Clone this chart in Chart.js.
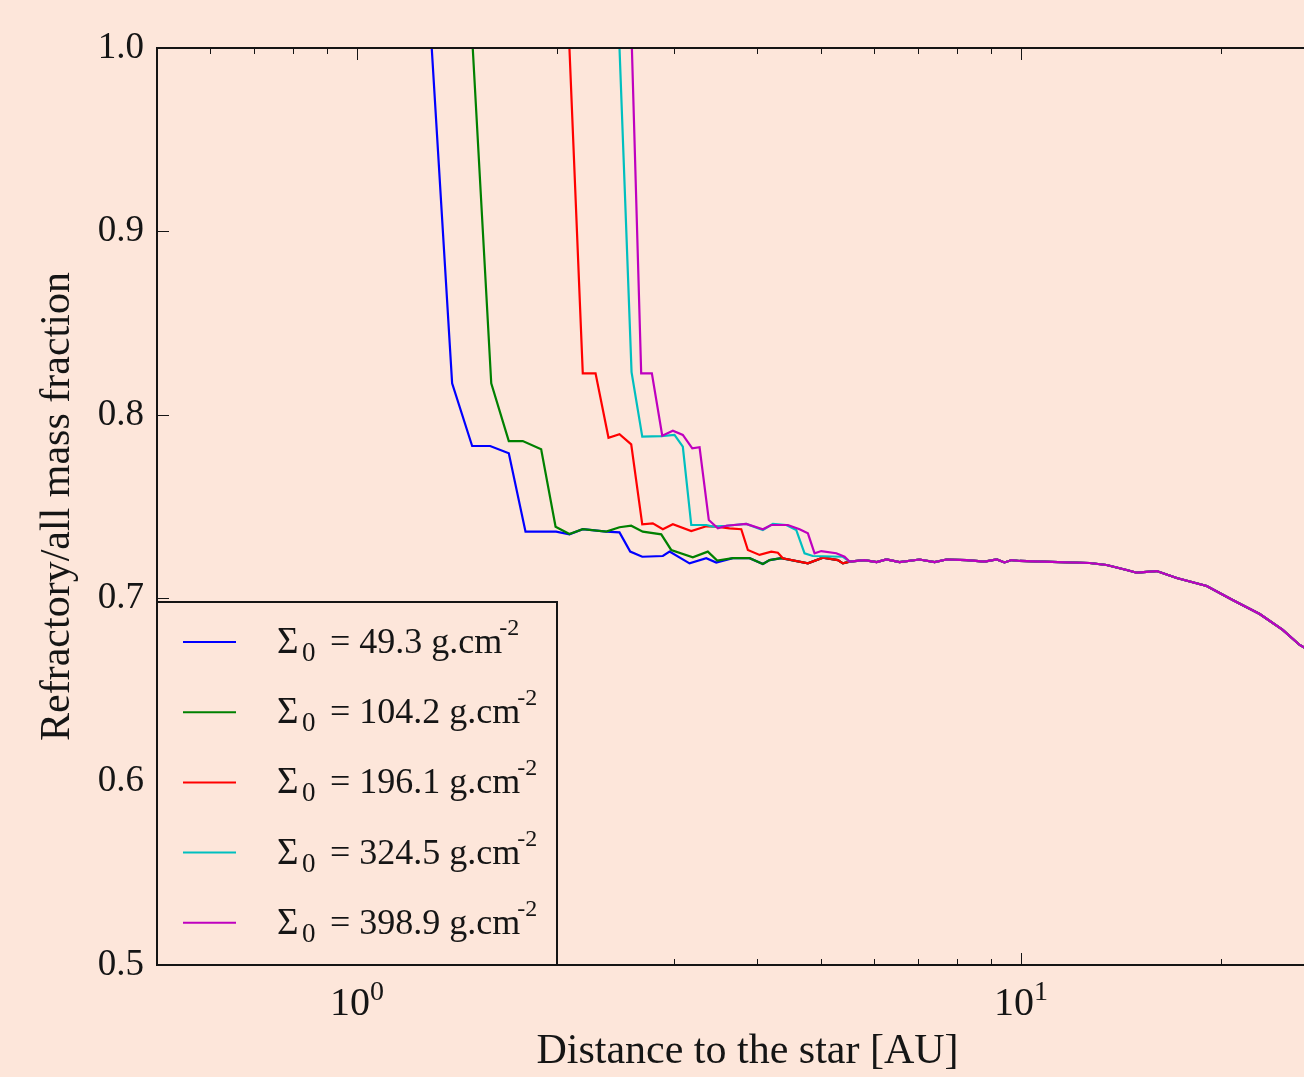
<!DOCTYPE html>
<html lang="en">
<head>
<meta charset="UTF-8">
<title>Refractory/all mass fraction vs distance</title>
<script src="https://cdn.jsdelivr.net/npm/chart.js@4.4.0/dist/chart.umd.min.js"></script>
<style>
    html, body { margin: 0; padding: 0; background: #fde6da; overflow: hidden; }
    #wrap { width: 1345px; height: 1077px; }
</style>
</head>
<body>
<div id="wrap"><canvas id="chart" width="1345" height="1077"></canvas></div>
<script>
// legend values (Sigma_0 in g.cm^-2) and line colours
const sigmaLabels = ['49.3', '104.2', '196.1', '324.5', '398.9'];
const lineColors = ['#0000ff', '#008000', '#ff0000', '#00bfbf', '#bf00bf'];

// each curve before it joins the common tail
const blueX = [1.296, 1.391, 1.491, 1.587, 1.693, 1.794, 1.995, 2.089, 2.188, 2.373, 2.485, 2.579, 2.689, 2.888, 2.956, 3.168, 3.357, 3.475, 3.681, 3.901, 4.085, 4.181, 4.354, 4.775, 5.030, 5.298, 5.391];
const blueY = [1.0, 0.8172, 0.7830, 0.7830, 0.7790, 0.7363, 0.7363, 0.7348, 0.7376, 0.7363, 0.7359, 0.7254, 0.7226, 0.7230, 0.7254, 0.7190, 0.7218, 0.7194, 0.7218, 0.7218, 0.7187, 0.7208, 0.7218, 0.7190, 0.7221, 0.7208, 0.7190];

const greenX = [1.494, 1.593, 1.693, 1.777, 1.894, 1.991, 2.089, 2.188, 2.373, 2.485, 2.588, 2.694, 2.872, 2.973, 3.204, 3.375, 3.487, 3.681, 3.901, 4.085, 4.181, 4.354, 4.775, 5.030, 5.298, 5.391];
const greenY = [1.0, 0.8172, 0.7857, 0.7857, 0.7812, 0.7390, 0.7350, 0.7376, 0.7363, 0.7387, 0.7395, 0.7363, 0.7348, 0.7263, 0.7223, 0.7254, 0.7205, 0.7218, 0.7218, 0.7187, 0.7208, 0.7218, 0.7190, 0.7221, 0.7208, 0.7190];

const redX = [2.089, 2.188, 2.287, 2.392, 2.485, 2.588, 2.689, 2.789, 2.888, 2.990, 3.187, 3.357, 3.475, 3.639, 3.790, 3.878, 4.038, 4.206, 4.303, 4.378, 4.775, 5.030, 5.298, 5.391];
const redY = [1.0, 0.8226, 0.8226, 0.7875, 0.7894, 0.7839, 0.7403, 0.7408, 0.7376, 0.7403, 0.7366, 0.7392, 0.7390, 0.7381, 0.7376, 0.7263, 0.7236, 0.7254, 0.7248, 0.7218, 0.7190, 0.7221, 0.7208, 0.7190];

const cyanX = [2.485, 2.591, 2.689, 2.872, 3.007, 3.095, 3.187, 3.357, 3.435, 3.598, 3.856, 4.085, 4.229, 4.430, 4.586, 4.720, 4.858, 5.391];
const cyanY = [1.0, 0.8233, 0.7881, 0.7884, 0.7890, 0.7826, 0.7399, 0.7399, 0.7390, 0.7395, 0.7405, 0.7372, 0.7405, 0.7399, 0.7372, 0.7245, 0.7230, 0.7226];

const purpleX = [2.594, 2.679, 2.780, 2.882, 2.990, 3.095, 3.198, 3.280, 3.387, 3.495, 3.598, 3.856, 4.085, 4.206, 4.455, 4.639, 4.775, 4.887, 5.002, 5.269, 5.423];
const purpleY = [1.0, 0.8226, 0.8226, 0.7886, 0.7913, 0.7890, 0.7817, 0.7823, 0.7426, 0.7381, 0.7395, 0.7405, 0.7376, 0.7399, 0.7399, 0.7376, 0.7354, 0.7245, 0.7257, 0.7245, 0.7226];

// common tail shared by all curves
const tailX = [5.52, 5.81, 6.06, 6.27, 6.56, 7.03, 7.41, 7.72, 8.28, 8.81, 9.19, 9.44, 9.68, 9.95, 10.77, 12.68, 13.45, 14.42, 14.93, 16.0, 17.15, 19.03, 20.82, 22.87, 24.77, 26.27, 30];
const tailY = [0.7199, 0.7208, 0.7197, 0.7211, 0.7197, 0.7211, 0.7197, 0.7211, 0.7208, 0.7200, 0.7211, 0.7195, 0.7208, 0.7203, 0.7199, 0.7192, 0.7181, 0.7154, 0.7139, 0.7148, 0.7110, 0.7067, 0.6990, 0.6914, 0.6827, 0.6745, 0.6625];

// axis ticks
const yTicks = [0.5, 0.6, 0.7, 0.8, 0.9, 1.0];
const xMajor = [1, 10];
const xMajorExp = ['0', '1'];
const xMinor = [0.6, 0.7, 0.8, 0.9, 2, 3, 4, 5, 6, 7, 8, 9, 20, 30];

const serif = "'Liberation Serif', 'Times New Roman', serif";
const ink = '#151515';
const bg = '#fde6da';

function toPoints(xs, ys) {
    const ax = xs.concat(tailX), ay = ys.concat(tailY);
    return ax.map((x, i) => ({ x: x, y: ay[i] }));
}

const series = [[blueX, blueY], [greenX, greenY], [redX, redY], [cyanX, cyanY], [purpleX, purpleY]];

const datasets = series.map((s, i) => ({
    label: sigmaLabels[i],
    data: toPoints(s[0], s[1]),
    borderColor: lineColors[i],
    borderWidth: 2.2,
    pointRadius: 0,
    tension: 0,
    fill: false,
    order: 5 - i
}));

// frame, inward ticks, decade labels and the legend box
const framePlugin = {
    id: 'frame',
    afterDatasetsDraw(chart) {
        const { ctx, chartArea: a, scales: { x, y } } = chart;
        ctx.save();
        ctx.strokeStyle = ink;
        ctx.lineWidth = 1;
        function seg(x1, y1, x2, y2) {
            ctx.beginPath(); ctx.moveTo(x1, y1); ctx.lineTo(x2, y2); ctx.stroke();
        }
        xMajor.forEach(v => {
            const px = Math.round(x.getPixelForValue(v)) + 0.5;
            seg(px, a.bottom, px, a.bottom - 12);
            seg(px, a.top, px, a.top + 12);
        });
        xMinor.forEach(v => {
            const px = Math.round(x.getPixelForValue(v)) + 0.5;
            seg(px, a.bottom, px, a.bottom - 6);
            seg(px, a.top, px, a.top + 6);
        });
        yTicks.forEach(v => {
            const py = Math.round(y.getPixelForValue(v)) + 0.5;
            seg(a.left, py, a.left + 12, py);
            seg(a.right, py, a.right - 12, py);
        });

        ctx.lineWidth = 2;
        ctx.strokeRect(a.left, a.top, a.right - a.left, a.bottom - a.top);

        // decade labels 10^n
        ctx.fillStyle = ink;
        ctx.textBaseline = 'alphabetic';
        ctx.textAlign = 'left';
        xMajor.forEach((v, i) => {
            const px = x.getPixelForValue(v);
            ctx.font = '40px ' + serif;
            const w1 = ctx.measureText('10').width;
            ctx.font = '28px ' + serif;
            const w2 = ctx.measureText(xMajorExp[i]).width;
            const start = px - (w1 + w2) / 2;
            ctx.font = '40px ' + serif;
            ctx.fillText('10', start, 1015);
            ctx.font = '28px ' + serif;
            ctx.fillText(xMajorExp[i], start + w1, 1000);
        });

        // legend
        const L = { left: a.left, top: 602, right: 557, bottom: a.bottom };
        ctx.fillStyle = bg;
        ctx.fillRect(L.left, L.top, L.right - L.left, L.bottom - L.top);
        ctx.lineWidth = 2;
        ctx.strokeStyle = ink;
        ctx.strokeRect(L.left, L.top, L.right - L.left, L.bottom - L.top);
        sigmaLabels.forEach((lab, i) => {
            const ry = 642 + i * 70.2;
            ctx.strokeStyle = lineColors[i];
            ctx.lineWidth = 2;
            seg(183, ry, 236, ry);
            ctx.fillStyle = ink;
            const base = ry + 11;
            ctx.font = '37px ' + serif;
            ctx.fillText('\u03A3', 277, base);
            ctx.font = '27px ' + serif;
            ctx.fillText('0', 302, base + 8);
            ctx.font = '36px ' + serif;
            const txt = '= ' + lab + ' g.cm';
            ctx.fillText(txt, 330, base);
            const w = ctx.measureText(txt).width;
            ctx.font = '24px ' + serif;
            ctx.fillText('-2', 330 + w - 3, base - 18);
        });
        ctx.restore();
    }
};

new Chart(document.getElementById('chart'), {
    type: 'line',
    data: { datasets: datasets },
    options: {
        responsive: false,
        animation: false,
        devicePixelRatio: 1,
        layout: { padding: { top: 48, right: 7, left: 0, bottom: 0 } },
        plugins: { legend: { display: false }, tooltip: { enabled: false } },
        scales: {
            x: {
                type: 'logarithmic',
                min: 0.5,
                max: 30,
                grid: { display: false, drawTicks: false },
                border: { display: false },
                ticks: { display: false },
                afterFit: s => { s.height = 112; },
                title: {
                    display: true,
                    text: 'Distance to the star [AU]',
                    color: ink,
                    font: { family: serif, size: 42 },
                    padding: { top: 0, bottom: 0 }
                }
            },
            y: {
                type: 'linear',
                min: 0.5,
                max: 1.0,
                grid: { display: false, drawTicks: false },
                border: { display: false },
                ticks: {
                    stepSize: 0.1,
                    color: ink,
                    padding: 13,
                    font: { family: serif, size: 37 },
                    callback: v => v.toFixed(1)
                },
                afterFit: s => { s.width = 157; },
                title: {
                    display: true,
                    text: 'Refractory/all mass fraction',
                    color: ink,
                    font: { family: serif, size: 42 },
                    padding: { top: 33, bottom: 0 }
                }
            }
        }
    },
    plugins: [framePlugin]
});
</script>
</body>
</html>
